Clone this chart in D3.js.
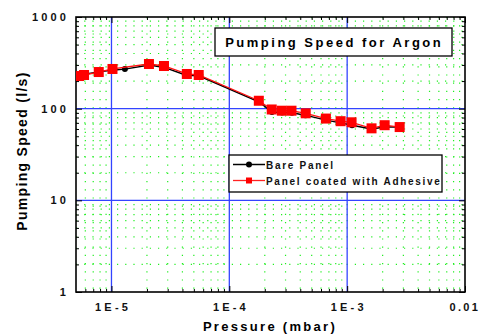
<!DOCTYPE html>
<html><head><meta charset="utf-8">
<script src="https://cdn.jsdelivr.net/npm/d3@7"></script>
<style>
body{margin:0;background:#fff;}
text{font-family:"Liberation Sans",Arial,sans-serif;font-weight:bold;}
</style></head>
<body><svg id="c" width="479" height="334"></svg>
<script>
const bareP = [5.3e-6,5.9e-6,7.8e-6,1.0e-5,1.3e-5,2.1e-5,2.8e-5,4.3e-5,5.5e-5,1.8e-4,2.3e-4,2.8e-4,3.4e-4,4.4e-4,6.6e-4,8.8e-4,1.1e-3,1.6e-3,2.1e-3,2.8e-3];
const bareS = [225,238,252,262,270,300,282,232,228,118,92,91,90,85,75,70,66,60,63,63];
const coatP = [5.3e-6,5.85e-6,7.8e-6,1.02e-5,2.08e-5,2.79e-5,4.36e-5,5.5e-5,1.78e-4,2.29e-4,2.79e-4,3.37e-4,4.45e-4,6.6e-4,8.8e-4,1.09e-3,1.61e-3,2.08e-3,2.79e-3];
const coatS = [227,233,251,271,307,292,239,233,122,98,95,95,89,78,73,71,61,66,63];
const xTicks = [1e-5,1e-4,1e-3,1e-2];
const xTickLabels = ["1E-5","1E-4","1E-3","0.01"];
const yTicks = [1,10,100,1000];
const yTickLabels = ["1","10","100","1000"];
const seriesNames = ["Bare Panel","Panel coated with Adhesive"];

const svg = d3.select("#c");
const L=76,R=465,T=17,B=292;
const x = d3.scaleLog().domain([5e-6,1e-2]).range([L,R]);
const y = d3.scaleLog().domain([1,1000]).range([B,T]);

const xMinor=[], yMinor=[];
for(let e=-6;e<=-3;e++) for(let m=2;m<=9;m++){const v=m*Math.pow(10,e); if(v>5e-6&&v<1e-2) xMinor.push(v);}
for(let e=0;e<=2;e++) for(let m=2;m<=9;m++){yMinor.push(m*Math.pow(10,e));}

const g = svg.append("g");
g.selectAll(".vm").data(xMinor).enter().append("line")
 .attr("x1",d=>x(d)).attr("x2",d=>x(d)).attr("y1",T).attr("y2",B)
 .attr("stroke","#22ee22").attr("stroke-width",1.2).attr("stroke-dasharray","1.2,7");
g.selectAll(".hm").data(yMinor).enter().append("line")
 .attr("x1",L).attr("x2",R).attr("y1",d=>y(d)).attr("y2",d=>y(d))
 .attr("stroke","#22ee22").attr("stroke-width",1.2).attr("stroke-dasharray","1.2,7");
g.selectAll(".vM").data([1e-5,1e-4,1e-3]).enter().append("line")
 .attr("x1",d=>x(d)).attr("x2",d=>x(d)).attr("y1",T).attr("y2",B)
 .attr("stroke","#3344ff").attr("stroke-width",1.3);
g.selectAll(".hM").data([10,100]).enter().append("line")
 .attr("x1",L).attr("x2",R).attr("y1",d=>y(d)).attr("y2",d=>y(d))
 .attr("stroke","#3344ff").attr("stroke-width",1.3);

const tickFmtNone = ()=>"";
function addAxis(axis, tr){ const a=svg.append("g").attr("transform",tr).call(axis); a.select(".domain").remove(); a.selectAll("line").attr("stroke","#000"); a.selectAll("text").remove(); return a;}
addAxis(d3.axisBottom(x).tickValues(xMinor).tickSize(-3).tickFormat(tickFmtNone),`translate(0,${B})`);
addAxis(d3.axisBottom(x).tickValues(xTicks).tickSize(-6).tickFormat(tickFmtNone),`translate(0,${B})`);
addAxis(d3.axisTop(x).tickValues(xMinor).tickSize(-3).tickFormat(tickFmtNone),`translate(0,${T})`);
addAxis(d3.axisTop(x).tickValues(xTicks).tickSize(-6).tickFormat(tickFmtNone),`translate(0,${T})`);
addAxis(d3.axisLeft(y).tickValues(yMinor).tickSize(-3).tickFormat(tickFmtNone),`translate(${L},0)`);
addAxis(d3.axisLeft(y).tickValues(yTicks).tickSize(-6).tickFormat(tickFmtNone),`translate(${L},0)`);
addAxis(d3.axisRight(y).tickValues(yMinor).tickSize(-3).tickFormat(tickFmtNone),`translate(${R},0)`);
addAxis(d3.axisRight(y).tickValues(yTicks).tickSize(-6).tickFormat(tickFmtNone),`translate(${R},0)`);

svg.append("rect").attr("x",L).attr("y",T).attr("width",R-L).attr("height",B-T)
 .attr("fill","none").attr("stroke","#000").attr("stroke-width",1.6);

const tls = 3.2;
svg.selectAll(".xl").data(xTicks).enter().append("text")
 .attr("x",(d,i)=> i===3 ? 478 + 2.4 : x(d)+tls/2)
 .attr("y",B+19).attr("text-anchor",(d,i)=> i===3 ? "end" : "middle")
 .attr("font-size",11).attr("letter-spacing",(d,i)=> i===3 ? 2.4 : tls).attr("fill","#111")
 .text((d,i)=>xTickLabels[i]);
svg.selectAll(".yl").data(yTicks).enter().append("text")
 .attr("x",L-10+tls).attr("y",d=>y(d)+4).attr("text-anchor","end")
 .attr("font-size",11).attr("letter-spacing",tls).attr("fill","#111")
 .text((d,i)=>yTickLabels[i]);

svg.append("text").attr("x",270).attr("y",331).attr("text-anchor","middle")
 .attr("font-size",13).attr("letter-spacing",2.3).text("Pressure (mbar)");
svg.append("text").attr("transform",`translate(27,151) rotate(-90)`).attr("text-anchor","middle")
 .attr("font-size",14).attr("letter-spacing",1.3).text("Pumping Speed (l/s)");

svg.append("clipPath").attr("id","cp").append("rect").attr("x",L).attr("y",T).attr("width",R-L).attr("height",B-T);
const line = d3.line().x(d=>x(d[0])).y(d=>y(d[1]));
const bare = bareP.map((p,i)=>[p,bareS[i]]);
const coat = coatP.map((p,i)=>[p,coatS[i]]);
const dg = svg.append("g").attr("clip-path","url(#cp)");
dg.append("path").datum(bare).attr("d",line).attr("fill","none").attr("stroke","#000").attr("stroke-width",1.5);
dg.selectAll(".bc").data(bare).enter().append("circle").attr("cx",d=>x(d[0])).attr("cy",d=>y(d[1])).attr("r",3).attr("fill","#000");
dg.append("path").datum(coat).attr("d",line).attr("fill","none").attr("stroke","#ff1111").attr("stroke-width",1.3);
dg.selectAll(".cs").data(coat).enter().append("rect").attr("x",d=>x(d[0])-5).attr("y",d=>y(d[1])-5).attr("width",10).attr("height",10).attr("fill","#ff0000");

svg.append("rect").attr("x",215).attr("y",28).attr("width",237).attr("height",28).attr("fill","#fff").attr("stroke","#000").attr("stroke-width",1.3);
svg.append("text").attr("x",333+1.2).attr("y",47).attr("text-anchor","middle").attr("font-size",13).attr("letter-spacing",2.5).text("Pumping Speed for Argon");

const lg = svg.append("g");
lg.append("rect").attr("x",229).attr("y",155).attr("width",213).attr("height",37).attr("fill","#fff").attr("stroke","#000").attr("stroke-width",1.3);
lg.append("line").attr("x1",233).attr("x2",265).attr("y1",164.5).attr("y2",164.5).attr("stroke","#000").attr("stroke-width",1.5);
lg.append("circle").attr("cx",249).attr("cy",164.5).attr("r",3).attr("fill","#000");
lg.append("line").attr("x1",233).attr("x2",265).attr("y1",180.5).attr("y2",180.5).attr("stroke","#ff2222").attr("stroke-width",1.3);
lg.append("rect").attr("x",246).attr("y",177.5).attr("width",6).attr("height",6).attr("fill","#ff0000");
lg.selectAll(".lt").data(seriesNames).enter().append("text")
 .attr("x",266).attr("y",(d,i)=>168.5+i*16).attr("font-size",10).attr("letter-spacing",1.7).attr("fill","#111").text(d=>d);
</script></body></html>
